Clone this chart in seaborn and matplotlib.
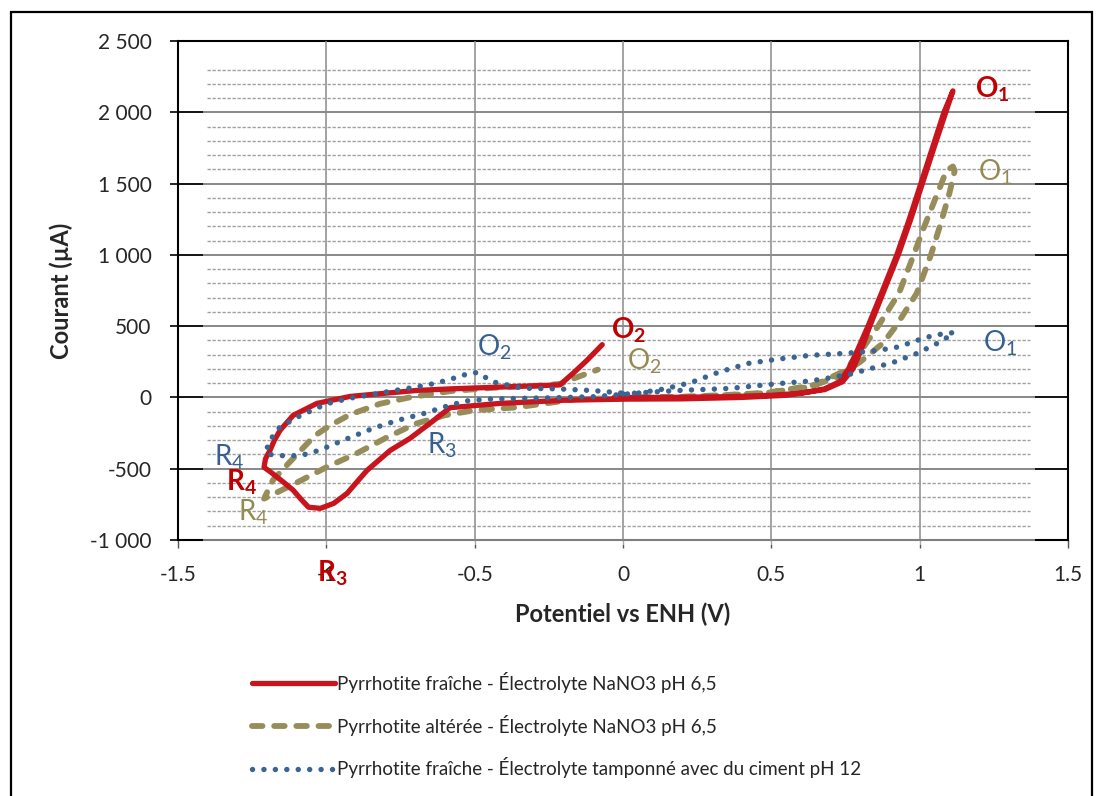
import matplotlib
matplotlib.use("Agg")
import numpy as np
import matplotlib.pyplot as plt
import matplotlib.transforms as mtransforms
from matplotlib.patches import Rectangle
import seaborn as sns

# ---- Voltammograms: potential (V vs ENH) and current (µA) ----
fresh_x = [-0.03, 0.15, 0.35, 0.50, 0.60, 0.68, 0.73, 0.76, 0.79, 0.826, 0.875, 0.923, 0.965,
           1.004, 1.043, 1.082, 1.112,
           1.088, 1.048, 1.009, 0.970, 0.928, 0.880, 0.832, 0.800, 0.775, 0.74, 0.68,
           0.55, 0.40, 0.20, 0.00, -0.20, -0.415, -0.583, -0.651, -0.718, -0.785, -0.863,
           -0.90, -0.93, -0.975, -1.02, -1.06, -1.085, -1.112, -1.15, -1.19, -1.21,
           -1.205, -1.19, -1.175, -1.156, -1.112, -1.032, -0.92, -0.809, -0.695, -0.583,
           -0.448, -0.357, -0.213, -0.169, -0.122, -0.07]
fresh_y = [0, 0, 5, 15, 30, 60, 110, 200, 330, 500, 750, 1000, 1250,
           1500, 1750, 2000, 2150,
           2000, 1750, 1500, 1250, 1000, 750, 500, 320, 200, 110, 55,
           15, 0, -10, -12, -20, -42, -72, -182, -287, -372, -512,
           -600, -673, -743, -778, -770, -715, -650, -585, -520, -490,
           -430, -372, -300, -231, -126, -42, 7, 28, 49, 60,
           70, 77, 88, 168, 259, 370]

altered_x = [-0.02, 0.20, 0.45, 0.62, 0.72, 0.80, 0.876, 0.92, 0.99, 1.038, 1.068, 1.10, 1.118,
             1.112, 1.09, 1.068, 1.01, 0.98, 0.93, 0.86, 0.80, 0.75, 0.65, 0.50, 0.30, 0.10,
             -0.15, -0.36, -0.50, -0.60, -0.70, -0.80, -0.90, -1.00, -1.10, -1.16, -1.21,
             -1.18, -1.14, -1.09, -1.04, -0.99, -0.92, -0.82, -0.72, -0.58, -0.42, -0.30,
             -0.21, -0.17, -0.085]
altered_y = [0, 5, 25, 70, 140, 250, 380, 500, 730, 1000, 1200, 1430, 1590,
             1620, 1590, 1473, 1170, 1000, 730, 500, 320, 190, 90, 35, 10, -5,
             -10, -70, -90, -125, -185, -285, -395, -490, -598, -660, -710,
             -580, -490, -380, -270, -200, -120, -45, 0, 45, 70, 80,
             95, 130, 195]

cement_x = [0.00, 0.19, 0.36, 0.46, 0.53, 0.63, 0.69, 0.77, 0.83, 0.91, 0.99, 1.06, 1.10, 1.115,
            1.06, 1.02, 0.97, 0.93, 0.86, 0.80, 0.74, 0.63, 0.52, 0.42, 0.32, 0.23, 0.14, 0.05,
            -0.10, -0.25, -0.36, -0.45, -0.53, -0.60, -0.67, -0.76, -0.84, -0.92, -1.00,
            -1.05, -1.09, -1.14, -1.19, -1.205,
            -1.19, -1.16, -1.10, -1.00, -0.92, -0.86, -0.78, -0.70, -0.63, -0.57, -0.52,
            -0.49, -0.44, -0.34, -0.22, -0.10, 0.00]
cement_y = [25, 49, 63, 84, 98, 115, 135, 165, 200, 245, 308, 380, 430, 455,
            440, 420, 385, 355, 330, 318, 308, 295, 268, 238, 175, 105, 60, 30,
            5, -3, -7, -12, -25, -65, -112, -161, -215, -281, -350,
            -390, -407, -410, -400, -385,
            -300, -215, -140, -45, -5, 15, 45, 72, 100, 135, 168,
            175, 110, 65, 60, 48, 30]

series_labels = ["Pyrrhotite fraîche - Électrolyte NaNO3 pH 6,5",
                 "Pyrrhotite altérée - Électrolyte NaNO3 pH 6,5",
                 "Pyrrhotite fraîche - Électrolyte tamponné avec du ciment pH 12"]

x_ticks = [-1.5, -1.0, -0.5, 0.0, 0.5, 1.0, 1.5]
x_tick_labels = ["-1.5", "-1", "-0.5", "0", "0.5", "1", "1.5"]
y_ticks = [-1000, -500, 0, 500, 1000, 1500, 2000, 2500]
y_tick_labels = ["-1 000", "-500", "0", "500", "1 000", "1 500", "2 000", "2 500"]

# peak labels: letter, index, x, y, series
peak_letter = ["O", "O", "O", "O", "O", "O", "R", "R", "R", "R", "R"]
peak_index = ["1", "1", "1", "2", "2", "2", "3", "3", "4", "4", "4"]
peak_x = [1.186, 1.196, 1.213, -0.041, 0.013, -0.492, -1.032, -0.661, -1.338, -1.298, -1.379]
peak_y = [2164, 1578, 379, 470, 252, 350, -1234, -337, -596, -806, -421]
peak_series = [0, 1, 2, 0, 1, 2, 0, 2, 0, 1, 2]

RED, OLIVE, BLUE = "#C8141C", "#978D5A", "#3A6592"
TXT = ["#C00000", "#948A54", "#376092"]

sns.set_style("white")
plt.rcParams["font.family"] = ["Lato", "DejaVu Sans"]
plt.rcParams["axes.unicode_minus"] = False
plt.rcParams["mathtext.fontset"] = "custom"
plt.rcParams["mathtext.rm"] = "Lato"
plt.rcParams["mathtext.bf"] = "Lato:bold"
plt.rcParams["mathtext.it"] = "Lato:italic"

fig = plt.figure(figsize=(10.99, 7.96), dpi=100)
ax = fig.add_axes([178 / 1099, 1 - 540 / 796, 890 / 1099, 499 / 796])

ax.set_xlim(-1.5, 1.5)
ax.set_ylim(-1000, 2500)

# major horizontal gridlines
for v in y_ticks:
    ax.axhline(v, color="black", lw=1.3, zorder=1)

# light veil over the plotting region
blend = mtransforms.blended_transform_factory(ax.transAxes, ax.transData)
ax.add_patch(Rectangle((0.028, -1035), 0.935, 3475, transform=blend,
                       facecolor="white", edgecolor="none", alpha=0.5,
                       zorder=2.6, clip_on=False))

# vertical gridlines
for v in x_ticks[1:-1]:
    ax.axvline(v, color="#8a8a8a", lw=1.1, zorder=2.7)

# minor dashed gridlines every 100 µA
for v in np.arange(-900, 2400, 100):
    if v % 500 != 0:
        ax.axhline(v, xmin=0.033, xmax=0.957, color="#a0a0a0", lw=1.0,
                   ls=(0, (2.4, 1.2)), zorder=2.7)

sns.lineplot(x=fresh_x, y=fresh_y, sort=False, estimator=None, ax=ax, color=RED,
             lw=3.8, solid_capstyle="round", solid_joinstyle="round",
             label=series_labels[0], zorder=5)
sns.lineplot(x=altered_x, y=altered_y, sort=False, estimator=None, ax=ax, color=OLIVE,
             lw=4.2, linestyle=(0, (1.8, 2.0)), dash_capstyle="round",
             label=series_labels[1], zorder=4)
sns.lineplot(x=cement_x, y=cement_y, sort=False, estimator=None, ax=ax, color=BLUE,
             lw=3.9, linestyle=(0, (0.01, 2.1)), dash_capstyle="round",
             label=series_labels[2], zorder=6)

for let, idx, px, py, s in zip(peak_letter, peak_index, peak_x, peak_y, peak_series):
    face = r"\mathbf" if s == 0 else r"\mathrm"
    body = "$" + face + "{" + let + "}_{" + face + "{" + idx + "}}$"
    ax.text(px, py, body, color=TXT[s], fontsize=20, ha="left", va="center",
            zorder=8, clip_on=False)

ax.set_xticks(x_ticks)
ax.set_xticklabels(x_tick_labels)
ax.set_yticks(y_ticks)
ax.set_yticklabels(y_tick_labels)
ax.tick_params(axis="y", direction="out", length=6, width=1.2, color="black",
               pad=13, labelsize=15, left=True)
ax.tick_params(axis="x", direction="out", length=6, width=1.0, color="#555555",
               pad=12, labelsize=15, bottom=True)

for sp in ax.spines.values():
    sp.set_visible(True)
    sp.set_color("black")
    sp.set_linewidth(1.5)

ax.set_xlabel("Potentiel vs ENH (V)", fontsize=17, fontweight="bold")
ax.set_ylabel("Courant (µA)", fontsize=17, fontweight="bold")
ax.xaxis.set_label_coords(0.5, -0.125)
ax.yaxis.set_label_coords(-0.118, 0.5)

leg = ax.legend(loc="upper left", bbox_to_anchor=(252 / 1099, 1 - 672 / 796),
                bbox_transform=fig.transFigure, frameon=False, fontsize=13.5,
                handlelength=4.4, handletextpad=0.15, labelspacing=1.15,
                borderpad=0, borderaxespad=0)

# outer frame of the figure
fig.patches.append(Rectangle((11 / 1099, -0.05), 1081 / 1099, 0.05 + 1 - 12 / 796,
                             transform=fig.transFigure, fill=False,
                             edgecolor="black", lw=1.6))

fig.savefig("out.png", dpi=100)
